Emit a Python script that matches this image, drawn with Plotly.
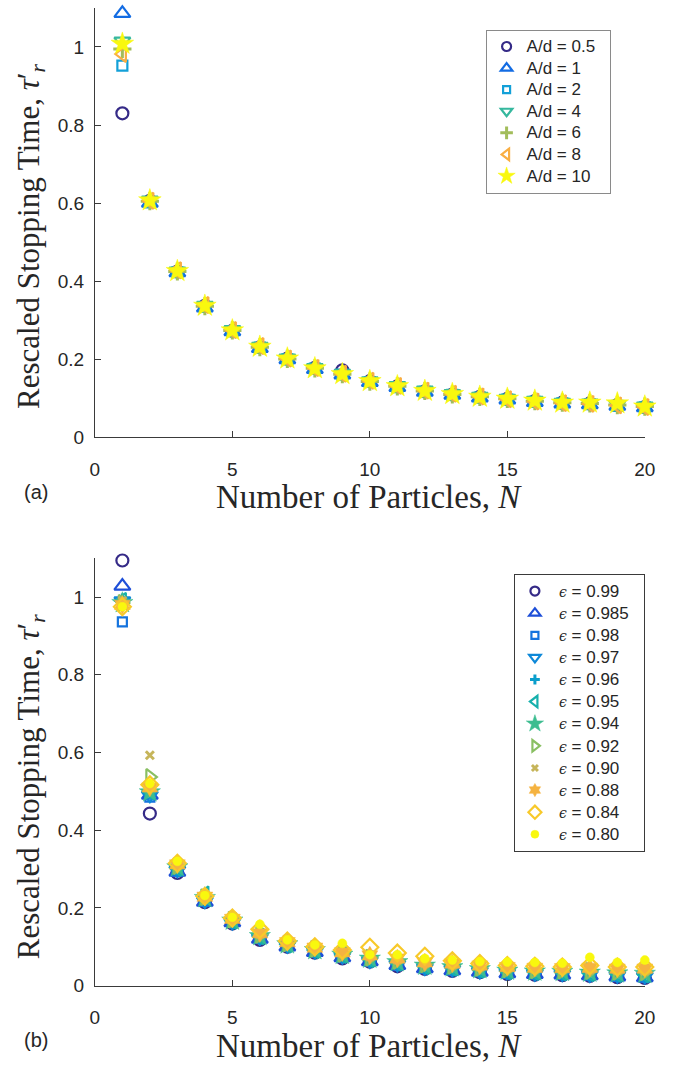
import plotly.graph_objects as go

N = list(range(1, 21))

# ---------- Panel (a): A/d series ----------
a_labels = ["A/d = 0.5", "A/d = 1", "A/d = 2", "A/d = 4", "A/d = 6", "A/d = 8", "A/d = 10"]
a_ad05 = [0.830, 0.606, 0.425, 0.337, 0.273, 0.231, 0.202, 0.178, 0.172, 0.144, 0.131, 0.118, 0.110, 0.104, 0.099, 0.093, 0.089, 0.087, 0.083, 0.078]
a_ad1 = [1.086, 0.600, 0.422, 0.332, 0.271, 0.228, 0.199, 0.174, 0.160, 0.141, 0.128, 0.116, 0.108, 0.101, 0.096, 0.090, 0.086, 0.084, 0.080, 0.076]
a_ad2 = [0.952, 0.602, 0.423, 0.334, 0.272, 0.230, 0.200, 0.176, 0.161, 0.142, 0.129, 0.117, 0.109, 0.102, 0.097, 0.091, 0.087, 0.085, 0.081, 0.077]
a_ad4 = [1.015, 0.608, 0.426, 0.338, 0.276, 0.233, 0.203, 0.179, 0.164, 0.145, 0.133, 0.121, 0.112, 0.105, 0.100, 0.095, 0.090, 0.088, 0.084, 0.080]
a_ad6 = [0.995, 0.605, 0.425, 0.336, 0.274, 0.231, 0.201, 0.177, 0.162, 0.143, 0.131, 0.119, 0.110, 0.104, 0.099, 0.093, 0.089, 0.087, 0.083, 0.079]
a_ad8 = [0.982, 0.606, 0.428, 0.339, 0.275, 0.234, 0.202, 0.178, 0.163, 0.145, 0.132, 0.120, 0.112, 0.105, 0.098, 0.092, 0.088, 0.086, 0.082, 0.078]
a_ad10 = [1.008, 0.607, 0.426, 0.337, 0.274, 0.232, 0.202, 0.177, 0.162, 0.144, 0.131, 0.119, 0.111, 0.104, 0.099, 0.094, 0.089, 0.089, 0.087, 0.079]
a_series = [a_ad05, a_ad1, a_ad2, a_ad4, a_ad6, a_ad8, a_ad10]
a_colors = ["#352A87", "#136CE3", "#13A0D8", "#36B89E", "#A2BD5A", "#F9AE42", "#F9F80E"]
a_symbols = ["circle-open", "triangle-up-open", "square-open", "triangle-down-open",
             "cross-thin-open", "triangle-left-open", "star"]
a_sizes = [12, 14, 10, 14, 13, 14, 17]
a_leg_sizes = [9, 10, 7, 10, 9, 10, 13]

# ---------- Panel (b): restitution coefficient series ----------
b_eps = ["0.99", "0.985", "0.98", "0.97", "0.96", "0.95", "0.94", "0.92", "0.90", "0.88", "0.84", "0.80"]
b_e099 = [1.094, 0.443, 0.290, 0.215, 0.160, 0.118, 0.100, 0.085, 0.070, 0.062, 0.050, 0.043, 0.038, 0.035, 0.030, 0.028, 0.027, 0.025, 0.022, 0.020]
b_e0985 = [1.028, 0.490, 0.292, 0.215, 0.162, 0.120, 0.100, 0.086, 0.072, 0.062, 0.052, 0.044, 0.039, 0.035, 0.031, 0.029, 0.028, 0.026, 0.023, 0.021]
b_e098 = [0.936, 0.485, 0.295, 0.217, 0.163, 0.122, 0.102, 0.087, 0.073, 0.063, 0.053, 0.045, 0.040, 0.036, 0.032, 0.030, 0.029, 0.027, 0.024, 0.022]
b_e097 = [0.990, 0.490, 0.297, 0.218, 0.163, 0.123, 0.103, 0.088, 0.075, 0.064, 0.055, 0.046, 0.042, 0.037, 0.033, 0.031, 0.030, 0.028, 0.026, 0.024]
b_e096 = [0.995, 0.495, 0.300, 0.222, 0.165, 0.125, 0.104, 0.090, 0.077, 0.066, 0.057, 0.048, 0.044, 0.039, 0.035, 0.033, 0.032, 0.030, 0.028, 0.027]
b_e095 = [0.990, 0.500, 0.303, 0.235, 0.167, 0.127, 0.106, 0.091, 0.079, 0.068, 0.059, 0.050, 0.046, 0.041, 0.037, 0.035, 0.034, 0.032, 0.030, 0.029]
b_e094 = [0.985, 0.498, 0.305, 0.226, 0.168, 0.128, 0.107, 0.092, 0.080, 0.070, 0.061, 0.052, 0.048, 0.043, 0.039, 0.037, 0.036, 0.034, 0.032, 0.031]
b_e092 = [0.985, 0.537, 0.308, 0.228, 0.170, 0.131, 0.109, 0.095, 0.082, 0.072, 0.064, 0.055, 0.051, 0.046, 0.042, 0.040, 0.039, 0.038, 0.036, 0.035]
b_e090 = [0.990, 0.593, 0.310, 0.229, 0.171, 0.133, 0.110, 0.096, 0.084, 0.075, 0.067, 0.058, 0.054, 0.049, 0.045, 0.043, 0.042, 0.041, 0.039, 0.038]
b_e088 = [0.980, 0.510, 0.312, 0.229, 0.172, 0.135, 0.112, 0.098, 0.086, 0.078, 0.070, 0.060, 0.057, 0.052, 0.048, 0.046, 0.045, 0.046, 0.044, 0.044]
b_e084 = [0.975, 0.517, 0.315, 0.230, 0.174, 0.145, 0.115, 0.100, 0.092, 0.099, 0.084, 0.076, 0.064, 0.057, 0.052, 0.050, 0.048, 0.052, 0.048, 0.048]
b_e080 = [0.975, 0.520, 0.320, 0.232, 0.176, 0.158, 0.118, 0.105, 0.109, 0.080, 0.080, 0.070, 0.066, 0.062, 0.061, 0.060, 0.058, 0.073, 0.060, 0.066]
b_series = [b_e099, b_e0985, b_e098, b_e097, b_e096, b_e095, b_e094, b_e092, b_e090, b_e088, b_e084, b_e080]
b_colors = ["#352A87", "#1E4FD8", "#1473DE", "#0D88D8", "#0A9ECC", "#16B0AC", "#3DBD90",
            "#89BF62", "#C6B55A", "#F5B340", "#F8C92A", "#F9F80E"]
b_symbols = ["circle-open", "triangle-up-open", "square-open", "triangle-down-open", "cross-thin-open",
             "triangle-left-open", "star", "triangle-right-open", "x-thin-open", "hexagram",
             "diamond-open", "circle"]
b_sizes = [12, 14, 9, 14, 8, 14, 16, 14, 8, 14, 13, 9]
b_leg_sizes = [9, 10, 7, 10, 7, 10, 13, 10, 6, 10, 10, 8]

y_ticks = [0, 0.2, 0.4, 0.6, 0.8, 1.0]
y_ticktext = ["0", "0.2", "0.4", "0.6", "0.8", "1"]
x_ticks = [0, 5, 10, 15, 20]

W, H = 690, 1066
fig = go.Figure()


def marker(sym, sz, c):
    is_open = sym.endswith("-open")
    lw = 2.2
    if sym.startswith("cross") or sym.startswith("x-"):
        lw = 3
    return dict(symbol=sym, size=sz, color=c, line=dict(color=c, width=lw if is_open else 0.5))


def add(series, colors, symbols, sizes, leg_sizes, names, xa, ya, legend):
    for s, c, sym, sz, nm in zip(series, colors, symbols, sizes, names):
        fig.add_trace(go.Scatter(
            x=N, y=s, mode="markers", name=nm, xaxis=xa, yaxis=ya, showlegend=False,
            cliponaxis=False, marker=marker(sym, sz, c)))
    # legend-only entries (smaller legend symbols as in the original)
    for c, sym, lsz, nm in zip(colors, symbols, leg_sizes, names):
        fig.add_trace(go.Scatter(
            x=[None], y=[None], mode="markers", name=nm, xaxis=xa, yaxis=ya, legend=legend,
            showlegend=True, marker=marker(sym, lsz, c)))


a_names = ["<span style='font-size:17px'>" + t + "\u00a0\u00a0</span>" for t in a_labels]
add(a_series, a_colors, a_symbols, a_sizes, a_leg_sizes, a_names, "x", "y", "legend")
eps_names = ["\u00a0<span style='font-family:DejaVu Serif;font-style:italic;font-size:14px'>ϵ</span>"
             "<span style='font-size:17px'> = " + e + "\u00a0\u00a0</span>" for e in b_eps]
add(b_series, b_colors, b_symbols, b_sizes, b_leg_sizes, eps_names, "x2", "y2", "legend2")

xdom = [92 / W, 655 / W]
ya_dom = [(H - 442) / H, (H - 8) / H]
yb_dom = [(H - 996) / H, (H - 564) / H]

axis_common = dict(showline=True, linecolor="#3a3a3a", linewidth=1, mirror=False,
                   showgrid=False, zeroline=False, ticks="inside", ticklen=6,
                   tickcolor="#3a3a3a",
                   tickfont=dict(family="Liberation Sans, Arial", size=19, color="#262626"))

fig.update_layout(
    width=W, height=H, margin=dict(l=0, r=0, t=0, b=0),
    paper_bgcolor="white", plot_bgcolor="white",
    xaxis=dict(domain=xdom, range=[0, 20], tickvals=x_ticks, anchor="y",
               ticklabelstandoff=15, **axis_common),
    yaxis=dict(domain=ya_dom, range=[0, 1.1], tickvals=y_ticks, ticktext=y_ticktext, anchor="x",
               ticklabelstandoff=6, **axis_common),
    xaxis2=dict(domain=xdom, range=[0, 20], tickvals=x_ticks, anchor="y2",
                ticklabelstandoff=14, **axis_common),
    yaxis2=dict(domain=yb_dom, range=[0, 1.1], tickvals=y_ticks, ticktext=y_ticktext, anchor="x2",
                ticklabelstandoff=6, **axis_common),
    legend=dict(x=492 / W, y=(H - 30) / H, xanchor="left", yanchor="top",
                bordercolor="#8a8a8a", borderwidth=1, bgcolor="white",
                font=dict(family="Liberation Sans, Arial", size=14.3, color="#262626"),
                tracegroupgap=0, itemsizing="trace"),
    legend2=dict(x=521 / W, y=(H - 580) / H, xanchor="left", yanchor="top",
                 bordercolor="#3a3a3a", borderwidth=1, bgcolor="white",
                 font=dict(family="Liberation Sans, Arial", size=14.7, color="#262626"),
                 tracegroupgap=0, itemsizing="trace"),
    showlegend=True,
)

serif_y = dict(family="Liberation Serif, Times New Roman, serif", size=31, color="#262626")
serif_x = dict(family="Liberation Serif, Times New Roman, serif", size=33, color="#262626")
ytitle = "Rescaled Stopping Time, <i>τ</i>′<sub><i>r</i></sub>"
xtitle = "Number of Particles, <i>N</i>"
for yc in [238, 794]:
    fig.add_annotation(text=ytitle, x=26 / W, y=(H - yc) / H, xref="paper", yref="paper",
                       textangle=-90, showarrow=False, font=serif_y, xanchor="center", yanchor="middle")
for yc in [502, 1057]:
    fig.add_annotation(text=xtitle, x=373 / W, y=(H - yc) / H, xref="paper", yref="paper",
                       showarrow=False, font=serif_x, xanchor="center", yanchor="middle")
for lab, yc in [("(a)", 497), ("(b)", 1051)]:
    fig.add_annotation(text=lab, x=32 / W, y=(H - yc) / H, xref="paper", yref="paper",
                       showarrow=False, font=dict(family="Liberation Sans, Arial", size=20, color="#262626"),
                       xanchor="center", yanchor="middle")

fig.write_html("out.html")
